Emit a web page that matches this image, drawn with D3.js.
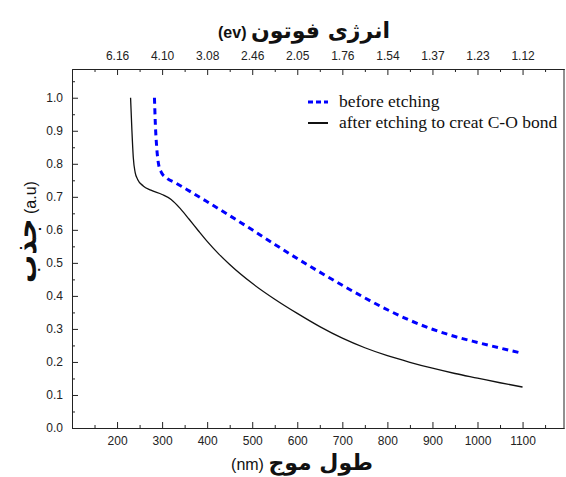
<!DOCTYPE html>
<html>
<head>
<meta charset="utf-8">
<script src="https://cdn.jsdelivr.net/npm/d3@7"></script>
<style>
  body { margin: 0; background: #fff; }
  svg { display: block; }
</style>
</head>
<body>
<div id="chart"></div>
<script>
// wavelength ticks (nm) and the matching photon energy labels (eV) on top
var waveTicks = [200, 300, 400, 500, 600, 700, 800, 900, 1000, 1100];
var energyLabels = ["6.16", "4.10", "3.08", "2.46", "2.05", "1.76", "1.54", "1.37", "1.23", "1.12"];
var absTicks = [0, 0.1, 0.2, 0.3, 0.4, 0.5, 0.6, 0.7, 0.8, 0.9, 1.0];

// before etching (blue dashed)
var beforeNm = [283, 285, 288, 292, 298, 310, 330, 360, 400, 450, 500, 550, 600, 650, 700, 750, 800, 850, 900, 950, 1000, 1050, 1100];
var beforeVal = [1.0, 0.92, 0.85, 0.80, 0.775, 0.757, 0.742, 0.718, 0.685, 0.643, 0.600, 0.556, 0.513, 0.472, 0.432, 0.394, 0.358, 0.326, 0.299, 0.277, 0.259, 0.242, 0.226];

// after etching (black solid)
var afterNm = [230, 233, 236, 240, 246, 258, 275, 300, 320, 340, 360, 380, 400, 425, 450, 500, 550, 600, 650, 700, 750, 800, 850, 900, 950, 1000, 1050, 1100];
var afterVal = [1.0, 0.90, 0.82, 0.775, 0.752, 0.733, 0.72, 0.707, 0.692, 0.665, 0.632, 0.598, 0.565, 0.528, 0.495, 0.438, 0.39, 0.347, 0.307, 0.272, 0.243, 0.219, 0.199, 0.181, 0.165, 0.151, 0.137, 0.124];

var seriesNames = ["before etching", "after etching to creat C-O bond"];

var W = 566, H = 477;
var margin = {top: 69, right: 2, bottom: 49, left: 72};
var width = W - margin.left - margin.right,
    height = H - margin.top - margin.bottom;

var svg = d3.select("#chart").append("svg")
    .attr("width", W)
    .attr("height", H);

var g = svg.append("g")
    .attr("transform", "translate(" + margin.left + "," + margin.top + ")");

var x = d3.scaleLinear().domain([100, 1192]).range([0, width]);
var y = d3.scaleLinear().domain([0, 1.087]).range([height, 0]);

function minorTicks(from, to, step) {
    var out = [];
    for (var v = from; v <= to + 1e-9; v += step) out.push(+v.toFixed(3));
    return out;
}

function styleAxis(sel) {
    sel.selectAll("path.domain").attr("stroke", "#222").attr("stroke-width", 1);
    sel.selectAll(".tick line").attr("stroke", "#222").attr("stroke-width", 1);
    sel.selectAll(".tick text")
        .attr("fill", "#222")
        .style("font-family", "'Liberation Sans', Arial, sans-serif")
        .style("font-size", "12px");
}

// bottom axis
g.append("g")
    .attr("transform", "translate(0," + height + ")")
    .call(d3.axisBottom(x).tickValues(minorTicks(150, 1150, 100)).tickSize(-3).tickSizeOuter(0).tickFormat(""))
    .call(styleAxis);
g.append("g")
    .attr("transform", "translate(0," + height + ")")
    .call(d3.axisBottom(x).tickValues(waveTicks).tickSize(-6).tickSizeOuter(0).tickPadding(8).tickFormat(d3.format("d")))
    .call(styleAxis);

// top axis (photon energy)
g.append("g")
    .call(d3.axisTop(x).tickValues(minorTicks(150, 1150, 100)).tickSize(-3).tickSizeOuter(0).tickFormat(""))
    .call(styleAxis);
g.append("g")
    .call(d3.axisTop(x).tickValues(waveTicks).tickSize(-6).tickSizeOuter(0).tickPadding(9)
        .tickFormat(function(d, i) { return energyLabels[i]; }))
    .call(styleAxis);

// left axis
g.append("g")
    .call(d3.axisLeft(y).tickValues(minorTicks(0.05, 1.05, 0.1)).tickSize(-3).tickSizeOuter(0).tickFormat(""))
    .call(styleAxis);
g.append("g")
    .call(d3.axisLeft(y).tickValues(absTicks).tickSize(-6).tickSizeOuter(0).tickPadding(9).tickFormat(d3.format(".1f")))
    .call(styleAxis);

// right border
g.append("line")
    .attr("x1", width).attr("x2", width)
    .attr("y1", 0).attr("y2", height)
    .attr("stroke", "#222");

// lines
var line = d3.line()
    .x(function(d) { return x(d[0]); })
    .y(function(d) { return y(d[1]); })
    .curve(d3.curveMonotoneX);

var beforeData = beforeNm.map(function(d, i) { return [d, beforeVal[i]]; });
var afterData = afterNm.map(function(d, i) { return [d, afterVal[i]]; });

g.append("path")
    .datum(afterData)
    .attr("fill", "none")
    .attr("stroke", "#111")
    .attr("stroke-width", 1.3)
    .attr("d", line);

g.append("path")
    .datum(beforeData)
    .attr("fill", "none")
    .attr("stroke", "#0000ff")
    .attr("stroke-width", 3)
    .attr("stroke-dasharray", "6,4.5")
    .attr("d", line);

// legend
var legend = svg.append("g").attr("transform", "translate(308,102)");
legend.append("line")
    .attr("x1", 0).attr("x2", 20).attr("y1", 0).attr("y2", 0)
    .attr("stroke", "#0000ff").attr("stroke-width", 3).attr("stroke-dasharray", "5,3");
legend.append("line")
    .attr("x1", 0).attr("x2", 20).attr("y1", 21).attr("y2", 21)
    .attr("stroke", "#111").attr("stroke-width", 2);
legend.selectAll("text.leg")
    .data(seriesNames)
    .enter().append("text")
    .attr("class", "leg")
    .attr("x", 31)
    .attr("y", function(d, i) { return 5 + i * 21; })
    .style("font-family", "'Liberation Serif', 'Times New Roman', serif")
    .style("font-size", "17.5px")
    .attr("fill", "#111")
    .text(function(d) { return d; });

// titles
var arabicFont = "'DejaVu Sans', sans-serif";

var topTitle = svg.append("text")
    .attr("x", 304).attr("y", 38)
    .attr("text-anchor", "middle")
    .attr("fill", "#111");
topTitle.append("tspan")
    .style("font-family", "'Liberation Sans', Arial, sans-serif")
    .style("font-size", "16px").style("font-weight", "bold")
    .text("(ev) ");
topTitle.append("tspan")
    .style("font-family", arabicFont)
    .style("font-size", "22px").style("font-weight", "bold")
    .text("انرژی فوتون");

var bottomTitle = svg.append("text")
    .attr("x", 302).attr("y", 470)
    .attr("text-anchor", "middle")
    .attr("fill", "#111");
bottomTitle.append("tspan")
    .style("font-family", "'Liberation Sans', Arial, sans-serif")
    .style("font-size", "16px")
    .text("(nm) ");
bottomTitle.append("tspan")
    .style("font-family", arabicFont)
    .style("font-size", "22px").style("font-weight", "bold")
    .text("طول موج");

var yTitle = svg.append("text")
    .attr("transform", "translate(36,232) rotate(-90)")
    .attr("text-anchor", "middle")
    .attr("fill", "#111");
yTitle.append("tspan")
    .style("font-family", arabicFont)
    .style("font-size", "28px").style("font-weight", "bold")
    .text("جذب");
yTitle.append("tspan")
    .style("font-family", "'Liberation Sans', Arial, sans-serif")
    .style("font-size", "16px")
    .text(" (a.u)");
</script>
</body>
</html>
